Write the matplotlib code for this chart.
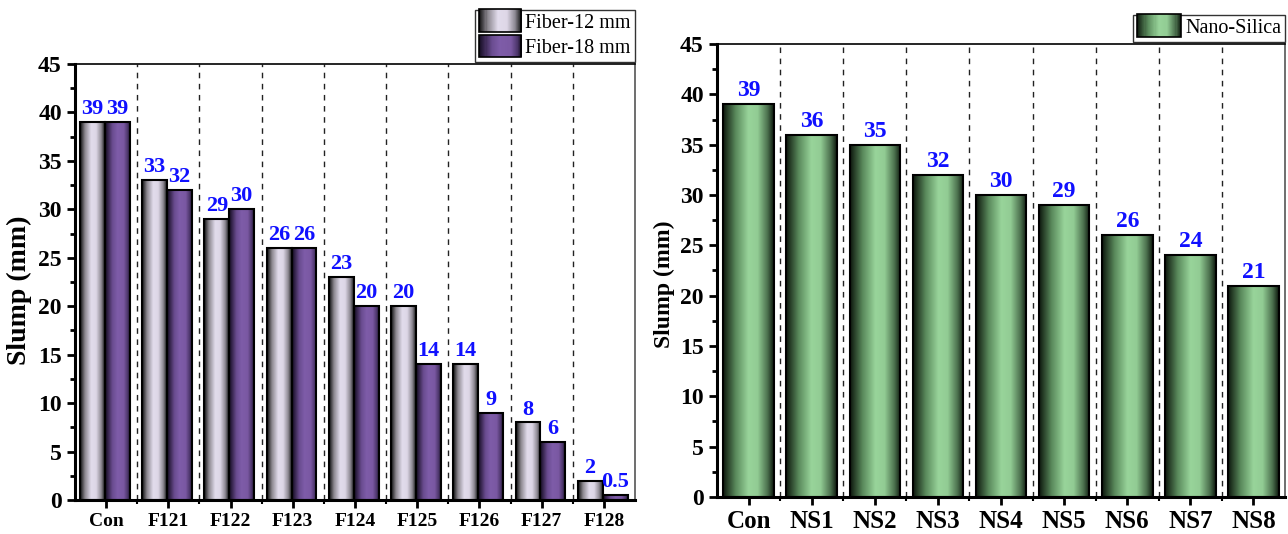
import numpy as np
import matplotlib.pyplot as plt
from matplotlib.colors import LinearSegmentedColormap
from matplotlib.patches import Rectangle
from matplotlib.legend_handler import HandlerBase
from matplotlib.ticker import MultipleLocator

plt.rcParams['font.family'] = ['Liberation Serif', 'DejaVu Serif']

fiber_mixes = ["Con", "F121", "F122", "F123", "F124", "F125", "F126", "F127", "F128"]
fiber_12 = [39, 33, 29, 26, 23, 20, 14, 8, 2]
fiber_18 = [39, 32, 30, 26, 20, 14, 9, 6, 0.5]

ns_mixes = ["Con", "NS1", "NS2", "NS3", "NS4", "NS5", "NS6", "NS7", "NS8"]
nano_silica = [39, 36, 35, 32, 30, 29, 26, 24, 21]

# cylinder-like shading across each bar
cmap_f12 = LinearSegmentedColormap.from_list(
    "f12", [(0, "#0a0a0a"), (0.2, "#8c8890"), (0.45, "#e2dcec"),
            (0.65, "#ddd6e6"), (0.85, "#8e8a94"), (1, "#1a1a1a")])
cmap_f18 = LinearSegmentedColormap.from_list(
    "f18", [(0, "#120a1e"), (0.3, "#6a4c90"), (0.5, "#7e5ca8"),
            (0.75, "#7a58a2"), (0.92, "#4a3468"), (1, "#1a1026")])
cmap_ns = LinearSegmentedColormap.from_list(
    "ns", [(0, "#0c160c"), (0.25, "#5a8a5c"), (0.5, "#98d49a"),
           (0.68, "#92cc94"), (0.88, "#4a6e4c"), (1, "#0c160c")])

GRAD = np.linspace(0, 1, 256).reshape(1, -1)
LABEL_BLUE = "#1010ff"


def gradient_bars(ax, xs, heights, width, cmap, fs):
    for x, h in zip(xs, heights):
        x0 = x - width / 2
        ax.imshow(GRAD, cmap=cmap, extent=[x0, x0 + width, 0, h],
                  aspect="auto", origin="lower", zorder=2, interpolation="bilinear")
        ax.add_patch(Rectangle((x0, 0), width, h, fill=False,
                               edgecolor="black", lw=1.5, zorder=3))
        ax.text(x, h + 0.3, f"{h:g}", ha="center", va="bottom", color=LABEL_BLUE,
                fontsize=fs, fontweight="bold", zorder=4)


class GradientHandler(HandlerBase):
    def __init__(self, cmap):
        super().__init__()
        self.cmap = cmap

    def create_artists(self, legend, orig_handle, xdescent, ydescent,
                       width, height, fontsize, trans):
        n = 40
        artists = []
        for i in range(n):
            r = Rectangle((-xdescent + width * i / n, -ydescent - 3), width / n + 0.3,
                          height + 6, facecolor=self.cmap((i + 0.5) / n),
                          edgecolor="none", transform=trans)
            artists.append(r)
        artists.append(Rectangle((-xdescent, -ydescent - 3), width, height + 6,
                                 fill=False, edgecolor="black", lw=1.2, transform=trans))
        return artists


def style_axes(ax, n, xlabels, xfont, yfont):
    ax.set_xlim(-0.5, n - 0.5)
    ax.set_ylim(0, 45)
    for b in np.arange(0.5, n - 0.5, 1):
        ax.axvline(b, color="#222222", lw=1, ls=(0, (4, 4)), zorder=1)
    ax.set_xticks(range(n))
    ax.set_xticklabels(xlabels, fontsize=xfont, fontweight="bold")
    ax.set_xticks(np.arange(0.5, n - 0.5, 1), minor=True)
    ax.yaxis.set_major_locator(MultipleLocator(5))
    ax.yaxis.set_minor_locator(MultipleLocator(2.5))
    ax.tick_params(axis="y", which="major", labelsize=17, width=2, length=6)
    ax.tick_params(axis="y", which="minor", width=2, length=3.5)
    ax.tick_params(axis="x", which="major", width=2, length=6)
    ax.tick_params(axis="x", which="minor", width=1.5, length=3)
    for lab in ax.get_yticklabels():
        lab.set_fontweight("bold")
    ax.set_ylabel("Slump (mm)", fontsize=yfont, fontweight="bold", labelpad=3)
    ax.spines["left"].set_linewidth(2.2)
    ax.spines["bottom"].set_linewidth(2.2)
    ax.spines["top"].set_linewidth(1.2)
    ax.spines["right"].set_linewidth(1.2)
    ax.spines["right"].set_color("#555555")


fig = plt.figure(figsize=(12.88, 5.34), dpi=100)
ax1 = fig.add_axes([0.0582, 0.0637, 0.4348, 0.8165])
ax2 = fig.add_axes([0.5567, 0.0693, 0.441, 0.8483])

# left panel: two fibre lengths
x = np.arange(len(fiber_mixes))
bw = 0.4
gradient_bars(ax1, x - bw / 2 - 0.02, fiber_12, bw, cmap_f12, 16)
gradient_bars(ax1, x + bw / 2 - 0.02, fiber_18, bw, cmap_f18, 16)
style_axes(ax1, len(fiber_mixes), fiber_mixes, 14, 20)
ax1.yaxis.set_label_coords(-0.077, 0.48)

h12 = Rectangle((0, 0), 1, 1)
h18 = Rectangle((0, 0), 1, 1)
leg1 = ax1.legend([h12, h18], ["Fiber-12 mm", "Fiber-18 mm"],
                  handler_map={h12: GradientHandler(cmap_f12), h18: GradientHandler(cmap_f18)},
                  loc="lower right", bbox_to_anchor=(1.0, 1.005), borderaxespad=0,
                  fontsize=14.5, frameon=True, fancybox=False, edgecolor="black",
                  handlelength=2.1, handletextpad=0.2, labelspacing=0.3,
                  borderpad=0.2)
leg1.get_frame().set_linewidth(1.0)

# right panel: nano-silica dosages
x2 = np.arange(len(ns_mixes))
gradient_bars(ax2, x2, nano_silica, 0.8, cmap_ns, 17)
style_axes(ax2, len(ns_mixes), ns_mixes, 18, 17)
ax2.yaxis.set_label_coords(-0.074, 0.47)

hns = Rectangle((0, 0), 1, 1)
leg2 = ax2.legend([hns], ["Nano-Silica"], handler_map={hns: GradientHandler(cmap_ns)},
                  loc="lower right", bbox_to_anchor=(1.0, 1.005), borderaxespad=0,
                  fontsize=14.5, frameon=True, fancybox=False, edgecolor="black",
                  handlelength=2.2, handletextpad=0.2, borderpad=0.2)
leg2.get_frame().set_linewidth(1.0)

fig.savefig("out.png", dpi=100)
